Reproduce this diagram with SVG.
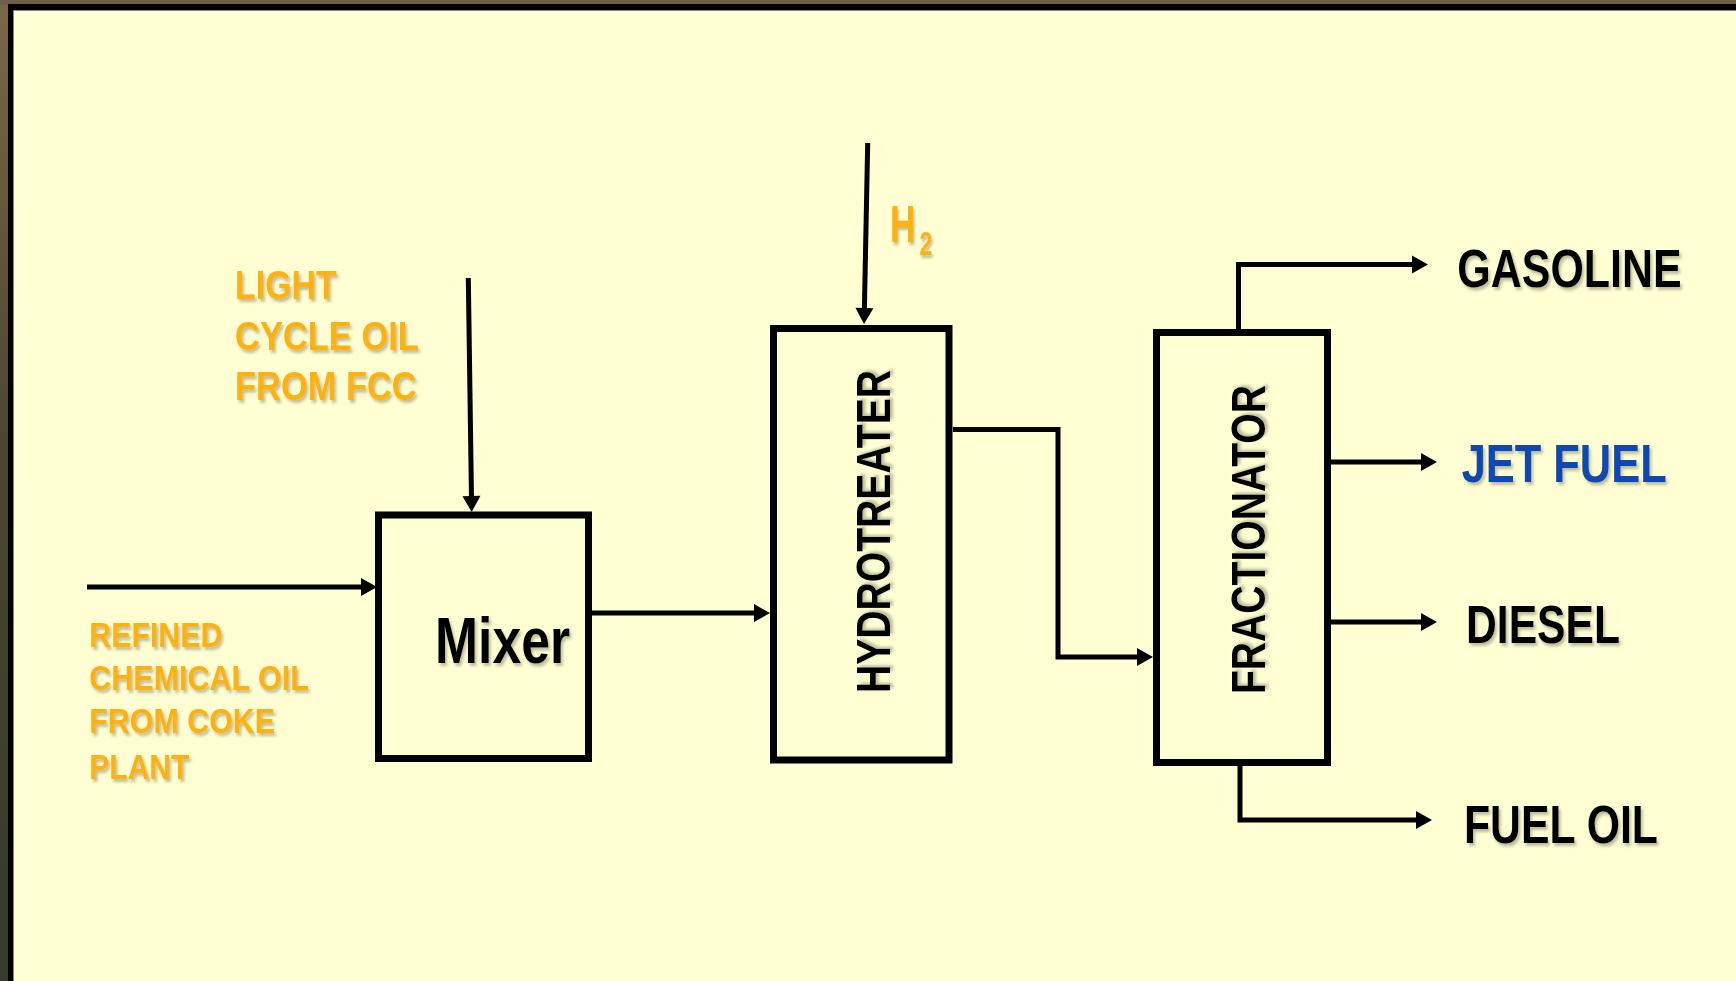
<svg xmlns="http://www.w3.org/2000/svg" width="1736" height="981" viewBox="0 0 1736 981">
  <style>
    .box { fill: none; stroke: #000; stroke-width: 7; }
    .flow { fill: none; stroke: #000; stroke-width: 5; stroke-linejoin: miter; marker-end: url(#arrow); }
    .lbl { font-family: "Liberation Sans", Arial, sans-serif; font-weight: bold; filter: url(#shadow); }
    .feed { fill: #FFB10D; }
    .prod { fill: #000; }
    .jet { fill: #0E48B0; }
  </style>
  <defs>
    <marker id="arrow" markerUnits="userSpaceOnUse" markerWidth="20" markerHeight="20" viewBox="0 -10 17 20" refX="10" refY="0" orient="auto">
      <path d="M0,-9 L16,0 L0,9 z" fill="#000"/>
    </marker>
    <filter id="shadow" x="-10%" y="-20%" width="130%" height="150%">
      <feDropShadow dx="2" dy="3" stdDeviation="1.8" flood-color="#6d6d5a" flood-opacity="0.45"/>
    </filter>
    <linearGradient id="edge" x1="0" y1="0" x2="0" y2="1">
      <stop offset="0" stop-color="#7b6748"/>
      <stop offset="0.45" stop-color="#4c4630"/>
      <stop offset="1" stop-color="#333a2c"/>
    </linearGradient>
  </defs>

  <!-- slide frame -->
  <rect x="0" y="0" width="1736" height="981" fill="url(#edge)"/>
  <rect x="0" y="0" width="1736" height="5" fill="#6e6048"/>
  <rect x="8" y="4" width="1728" height="977" fill="#000"/>
  <rect x="13" y="10" width="1723" height="971" fill="#8c8a6e"/>
  <rect x="14" y="11" width="1722" height="970" fill="#FFFFD3"/>

  <!-- connectors -->
  <g id="connectors">
    <line class="flow" x1="87" y1="587" x2="371" y2="587"/>
    <line class="flow" x1="468.3" y1="278" x2="471.6" y2="506"/>
    <line class="flow" x1="867.7" y1="143" x2="864.2" y2="318"/>
    <line class="flow" x1="591" y1="613" x2="764" y2="613"/>
    <polyline class="flow" points="953,429.5 1058,429.5 1058,657 1147,657"/>
    <polyline class="flow" points="1238.5,329 1238.5,264.5 1422,264.5"/>
    <line class="flow" x1="1331" y1="462" x2="1431" y2="462"/>
    <line class="flow" x1="1331" y1="622" x2="1431" y2="622"/>
    <polyline class="flow" points="1240,766 1240,820 1426,820"/>
  </g>

  <!-- process units -->
  <g id="mixer">
    <rect class="box" x="378.5" y="515" width="210" height="243.5"/>
    <text class="lbl prod" x="435" y="663.3" font-size="65" textLength="135" lengthAdjust="spacingAndGlyphs">Mixer</text>
  </g>
  <g id="hydrotreater">
    <rect class="box" x="773.5" y="328.5" width="175.5" height="431.5"/>
    <text class="lbl prod" transform="translate(890,693) rotate(-90)" x="0" y="0" font-size="49" textLength="323" lengthAdjust="spacingAndGlyphs">HYDROTREATER</text>
  </g>
  <g id="fractionator">
    <rect class="box" x="1156.5" y="332.5" width="171" height="430"/>
    <text class="lbl prod" transform="translate(1265,694) rotate(-90)" x="0" y="0" font-size="49" textLength="309" lengthAdjust="spacingAndGlyphs">FRACTIONATOR</text>
  </g>

  <!-- feed labels -->
  <g id="light-cycle-oil">
    <text class="lbl feed" font-size="40">
      <tspan x="235" y="299.3" textLength="101.7" lengthAdjust="spacingAndGlyphs">LIGHT</tspan>
      <tspan x="235" y="350" textLength="183.3" lengthAdjust="spacingAndGlyphs">CYCLE OIL</tspan>
      <tspan x="235" y="400" textLength="181.7" lengthAdjust="spacingAndGlyphs">FROM FCC</tspan>
    </text>
  </g>
  <g id="refined-chemical-oil">
    <text class="lbl feed" font-size="35">
      <tspan x="89.3" y="646.7" textLength="133" lengthAdjust="spacingAndGlyphs">REFINED</tspan>
      <tspan x="89.3" y="690" textLength="219" lengthAdjust="spacingAndGlyphs">CHEMICAL OIL</tspan>
      <tspan x="89.3" y="733.3" textLength="185.7" lengthAdjust="spacingAndGlyphs">FROM COKE</tspan>
      <tspan x="89.3" y="779.3" textLength="100" lengthAdjust="spacingAndGlyphs">PLANT</tspan>
    </text>
  </g>
  <g id="hydrogen">
    <!-- H with subscript 2, condensed horizontally -->
    <text class="lbl feed" transform="translate(890,242) scale(0.68,1)" x="0" y="0" font-size="52">H<tspan dx="6" dy="13" font-size="34">2</tspan></text>
  </g>

  <!-- product labels -->
  <g id="gasoline">
    <text class="lbl prod" x="1457.3" y="286.7" font-size="53.5" textLength="224.4" lengthAdjust="spacingAndGlyphs">GASOLINE</text>
  </g>
  <g id="jet-fuel">
    <text class="lbl jet" x="1461.7" y="481.7" font-size="53.5" textLength="205" lengthAdjust="spacingAndGlyphs">JET FUEL</text>
  </g>
  <g id="diesel">
    <text class="lbl prod" x="1466" y="643" font-size="53.5" textLength="154" lengthAdjust="spacingAndGlyphs">DIESEL</text>
  </g>
  <g id="fuel-oil">
    <text class="lbl prod" x="1464" y="843" font-size="53.5" textLength="194" lengthAdjust="spacingAndGlyphs">FUEL OIL</text>
  </g>
</svg>
